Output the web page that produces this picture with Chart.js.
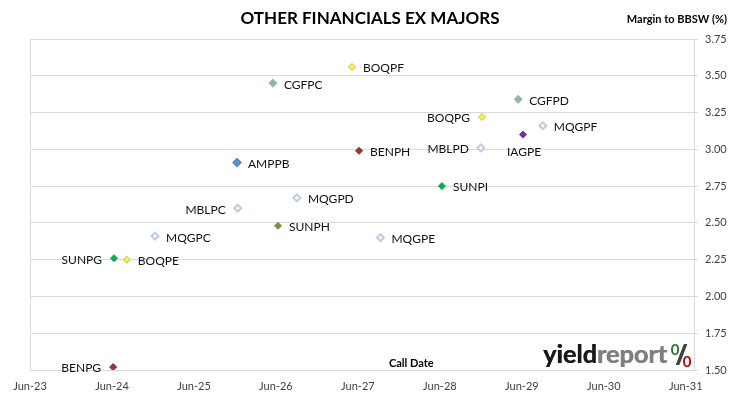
<!DOCTYPE html>
<html lang="en">
<head>
<meta charset="UTF-8">
<title>Other Financials ex Majors</title>
<script src="https://cdn.jsdelivr.net/npm/chart.js@4.4.0/dist/chart.umd.min.js"></script>
<style>
    body { margin: 0; background: #fff; }
    #wrap { width: 730px; height: 399px; }
</style>
</head>
<body>
<div id="wrap"><canvas id="myChart"></canvas></div>
<script>
// securities, first call date and margin to BBSW (%)
const securities = ['BOQPF', 'CGFPC', 'BENPH', 'AMPPB', 'MQGPD', 'CGFPD', 'BOQPG', 'MQGPF', 'IAGPE',
    'MBLPD', 'SUNPI', 'MBLPC', 'SUNPH', 'MQGPC', 'SUNPG', 'BOQPE', 'BENPG', 'MQGPE'];
const callDates = ['2027-05-05', '2026-05-18', '2027-06-06', '2025-12-10', '2026-09-03', '2029-05-15', '2028-12-06', '2029-09-03', '2029-06-06',
    '2028-12-01', '2028-06-10', '2025-12-13', '2026-06-10', '2024-12-10', '2024-06-10', '2024-08-06', '2024-06-06', '2027-09-10'];
const margins = [3.56, 3.45, 2.99, 2.91, 2.67, 3.34, 3.22, 3.16, 3.10,
    3.01, 2.75, 2.60, 2.48, 2.41, 2.26, 2.25, 1.52, 2.40];
const xTickLabels = ['Jun-23', 'Jun-24', 'Jun-25', 'Jun-26', 'Jun-27', 'Jun-28', 'Jun-29', 'Jun-30', 'Jun-31'];

// where each label sits next to its marker
const leftLabels = ['BOQPG', 'MBLPD', 'MBLPC', 'SUNPG', 'BENPG'];
const belowLabels = ['IAGPE'];

// months after Jun-23
function toMonths(s) {
    var p = s.split('-').map(Number);
    return (p[0] - 2023) * 12 + (p[1] - 6) + (p[2] - 1) / 30;
}
function markerStyle(name) {
    if (name.startsWith('BOQ')) return { fill: '#ffff00', line: '#b0b0b0', w: 1, r: 3.5 };
    if (name.startsWith('CGF')) return { fill: '#9bbb59', line: '#95b3d7', w: 1.5, r: 3.5 };
    if (name.startsWith('AMP')) return { fill: '#558ed5', line: '#558ed5', w: 1, r: 4.5 };
    if (name.startsWith('BEN')) return { fill: '#953735', line: '#7f2a28', w: 1, r: 3.5 };
    if (name.startsWith('IAG')) return { fill: '#7030a0', line: '#7030a0', w: 1, r: 3.5 };
    if (name === 'SUNPH') return { fill: '#77933c', line: '#77933c', w: 1, r: 3.5 };
    if (name.startsWith('SUN')) return { fill: '#00b050', line: '#00b050', w: 1, r: 3.5 };
    return { fill: '#ffffff', line: '#b9cde5', w: 2, r: 3.5 };
}

var styles = securities.map(markerStyle);
var points = securities.map(function (s, i) {
    return { x: toMonths(callDates[i]), y: margins[i] };
});

var FONT = 'Lato, "Open Sans", sans-serif';

var decorations = {
    id: 'decorations',
    beforeDatasetsDraw: function (chart) {
        var ctx = chart.ctx, a = chart.chartArea;
        ctx.save();
        ctx.strokeStyle = '#d9d9d9';
        ctx.lineWidth = 1;
        ctx.beginPath();
        ctx.moveTo(a.left + 0.5, a.top);
        ctx.lineTo(a.left + 0.5, a.bottom);
        ctx.stroke();
        ctx.restore();
    },
    afterDatasetsDraw: function (chart) {
        var ctx = chart.ctx;
        var meta = chart.getDatasetMeta(0);
        ctx.save();
        ctx.font = '12px ' + FONT;
        ctx.fillStyle = '#111';
        ctx.textBaseline = 'middle';
        meta.data.forEach(function (pt, i) {
            var name = securities[i];
            if (belowLabels.includes(name)) {
                ctx.textAlign = 'center';
                ctx.fillText(name, pt.x + 1, pt.y + 18);
            } else if (leftLabels.includes(name)) {
                ctx.textAlign = 'right';
                ctx.fillText(name, pt.x - 12, pt.y + 1.5);
            } else {
                ctx.textAlign = 'left';
                ctx.fillText(name, pt.x + 11, pt.y + 1.5);
            }
        });

        // title and axis captions
        ctx.fillStyle = '#000';
        ctx.textAlign = 'center';
        ctx.font = 'bold 17px ' + FONT;
        ctx.fillText('OTHER FINANCIALS EX MAJORS', 370, 19);
        ctx.textAlign = 'right';
        ctx.font = 'bold 11px ' + FONT;
        ctx.fillText('Margin to BBSW (%)', 727, 19);
        ctx.textAlign = 'left';
        ctx.fillText('Call Date', 389, 363);

        // yieldreport logo
        ctx.font = 'bold 25px ' + FONT;
        ctx.textBaseline = 'alphabetic';
        var w1 = ctx.measureText('yield').width;
        var w2 = ctx.measureText('report').width;
        var sx = 124 / (w1 + w2);
        ctx.save();
        ctx.translate(543, 363);
        ctx.scale(sx, 1);
        ctx.fillStyle = '#1a1a1a';
        ctx.fillText('yield', 0, 0);
        ctx.fillText('yield', 0.6, 0);
        ctx.fillStyle = '#7f7f7f';
        ctx.fillText('report', w1, 0);
        ctx.fillText('report', w1 + 0.6, 0);
        ctx.restore();
        ctx.textAlign = 'center';
        ctx.textBaseline = 'middle';
        ctx.font = 'bold 26px ' + FONT;
        ctx.fillStyle = '#404040';
        ctx.fillText('/', 681, 356);
        ctx.fillText('/', 682, 356);
        ctx.font = 'bold 15px ' + FONT;
        ctx.fillStyle = '#1e7b34';
        ctx.fillText('0', 675, 350);
        ctx.fillStyle = '#c00000';
        ctx.fillText('0', 687, 362);
        ctx.restore();
    }
};

var ctx = document.getElementById('myChart').getContext('2d');
var myChart = new Chart(ctx, {
    type: 'scatter',
    data: {
        datasets: [{
            data: points,
            pointStyle: 'rectRot',
            pointRadius: styles.map(function (s) { return s.r; }),
            pointHoverRadius: styles.map(function (s) { return s.r; }),
            backgroundColor: styles.map(function (s) { return s.fill; }),
            borderColor: styles.map(function (s) { return s.line; }),
            borderWidth: styles.map(function (s) { return s.w; })
        }]
    },
    options: {
        responsive: true,
        maintainAspectRatio: false,
        animation: false,
        layout: { padding: { left: 30, top: 39, right: 0, bottom: 0 } },
        plugins: { legend: { display: false }, tooltip: { enabled: false } },
        scales: {
            x: {
                type: 'linear',
                min: 0,
                max: 97.2,
                grid: { display: false },
                border: { display: false },
                afterFit: function (scale) { scale.height = 29; },
                afterBuildTicks: function (scale) {
                    scale.ticks = xTickLabels.map(function (l, i) { return { value: i * 12 }; });
                },
                ticks: {
                    autoSkip: false,
                    maxRotation: 0,
                    padding: 2,
                    color: '#404040',
                    font: { family: FONT, size: 11 },
                    callback: function (v, i) { return xTickLabels[i]; }
                }
            },
            y: {
                position: 'right',
                min: 1.5,
                max: 3.75,
                grid: { color: '#d9d9d9', tickLength: 4 },
                border: { color: '#d9d9d9' },
                afterFit: function (scale) { scale.width = 36; },
                ticks: {
                    stepSize: 0.25,
                    padding: 7,
                    color: '#404040',
                    font: { family: FONT, size: 11 },
                    callback: function (v) { return v.toFixed(2); }
                }
            }
        }
    },
    plugins: [decorations]
});
</script>
</body>
</html>
